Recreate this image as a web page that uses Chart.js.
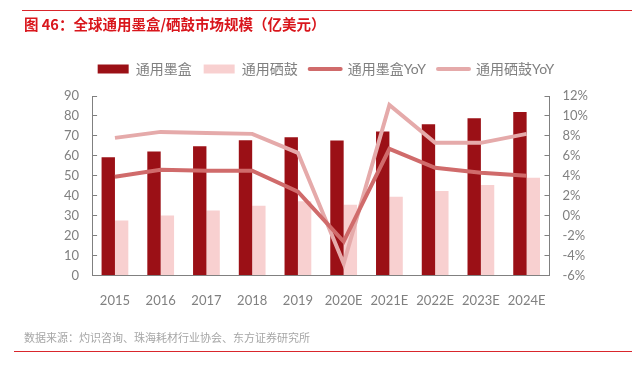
<!DOCTYPE html>
<html>
<head>
<meta charset="utf-8">
<script src="https://cdn.jsdelivr.net/npm/chart.js@4.4.1/dist/chart.umd.min.js"></script>
<style>
  body { margin: 0; background: #fff; }
  #wrap { position: relative; width: 632px; height: 370px; font-family: Lato, 'Noto Sans CJK SC', sans-serif; }
  #topline { position: absolute; left: 22px; right: 0; top: 10px; height: 1px; background: #d9262c; }
  #title { position: absolute; left: 24px; top: 13px; font-size: 14.5px; font-weight: bold; color: #d9161c; font-family: 'Noto Sans CJK SC', sans-serif; }
  #source { position: absolute; left: 24px; top: 329px; font-size: 11px; color: #a6a6a6; font-family: 'Noto Sans CJK SC', sans-serif; }
  #bottomline { position: absolute; left: 14px; right: 0; top: 351px; height: 1px; background: #d9262c; }
  canvas { position: absolute; left: 0; top: 0; }
</style>
</head>
<body>
<div id="wrap">
  <canvas id="chart" width="632" height="370"></canvas>
  <div id="topline"></div>
  <div id="title">图 46：全球通用墨盒/硒鼓市场规模（亿美元）</div>
  <div id="source">数据来源：灼识咨询、珠海耗材行业协会、东方证券研究所</div>
  <div id="bottomline"></div>
</div>
<script>
// データ
const years = ['2015', '2016', '2017', '2018', '2019', '2020E', '2021E', '2022E', '2023E', '2024E'];
const inkCart = [59.3, 62.2, 64.8, 67.8, 69.3, 67.7, 72.2, 75.8, 78.8, 82.0];
const toner = [27.5, 30.0, 32.5, 35.0, 37.2, 35.5, 39.5, 42.3, 45.3, 49.0];
const inkYoY = [3.9, 4.6, 4.5, 4.5, 2.4, -2.6, 6.7, 4.8, 4.3, 4.0];
const tonerYoY = [7.8, 8.4, 8.3, 8.2, 6.3, -4.8, 11.1, 7.3, 7.3, 8.2];
const leftTicks = [0, 90, 10];
const rightTicks = [-6, 12, 2];

const gray = '#808080';
const font = { family: "Lato, 'Noto Sans CJK SC', sans-serif", size: 13 };
const legendFont = { family: "Lato, 'Noto Sans CJK SC', sans-serif", size: 14 };

// 凡例の下に余白を足す
const legendGap = {
  id: 'legendGap',
  beforeInit(chart) {
    const fit = chart.legend.fit;
    chart.legend.fit = function () {
      fit.call(this);
      this.height += 10;
    };
  }
};

const ctx = document.getElementById('chart').getContext('2d');

const chart = new Chart(ctx, {
  type: 'bar',
  data: {
    labels: years,
    datasets: [
      { label: '通用墨盒', data: inkCart, backgroundColor: '#9b1016', yAxisID: 'y', order: 1 },
      { label: '通用硒鼓', data: toner, backgroundColor: '#f8d0d0', yAxisID: 'y', order: 1 },
      { type: 'line', label: '通用墨盒YoY', data: inkYoY, borderColor: '#d06b6b', borderWidth: 4,
        pointRadius: 0, tension: 0, yAxisID: 'y1', order: 0 },
      { type: 'line', label: '通用硒鼓YoY', data: tonerYoY, borderColor: '#e5aaaa', borderWidth: 4,
        pointRadius: 0, tension: 0, yAxisID: 'y1', order: 0 }
    ]
  },
  options: {
    responsive: false,
    animation: false,
    layout: { padding: { top: 50, left: 46, right: 26, bottom: 51 } },
    datasets: {
      bar: { categoryPercentage: 0.585, barPercentage: 1 }
    },
    scales: {
      x: {
        grid: { display: false },
        border: { color: gray, width: 1 },
        ticks: { color: gray, font: font, padding: 10, autoSkip: false, maxRotation: 0 }
      },
      y: {
        position: 'left',
        min: leftTicks[0], max: leftTicks[1],
        ticks: { stepSize: leftTicks[2], color: gray, font: font, padding: 18, autoSkip: false },
        grid: { drawOnChartArea: false, drawTicks: true, tickLength: -5, color: gray },
        border: { color: gray, width: 1 }
      },
      y1: {
        position: 'right',
        min: rightTicks[0], max: rightTicks[1],
        ticks: { stepSize: rightTicks[2], color: gray, font: font, padding: 18, autoSkip: false,
          callback: v => v + '%' },
        grid: { drawOnChartArea: false, drawTicks: true, tickLength: -5, color: gray },
        border: { color: gray, width: 1 }
      }
    },
    plugins: {
      tooltip: { enabled: false },
      legend: {
        position: 'top',
        labels: {
          usePointStyle: true,
          pointStyleWidth: 31,
          boxHeight: 9,
          padding: 12,
          color: gray,
          font: legendFont,
          generateLabels: c => c.data.datasets.map((ds, i) => {
            const isLine = ds.type === 'line';
            return {
              text: ds.label,
              datasetIndex: i,
              pointStyle: isLine ? 'line' : 'rect',
              fillStyle: isLine ? ds.borderColor : ds.backgroundColor,
              strokeStyle: isLine ? ds.borderColor : ds.backgroundColor,
              lineWidth: isLine ? 4 : 0,
              lineCap: 'round',
              fontColor: gray,
              hidden: false
            };
          })
        }
      }
    }
  },
  plugins: [legendGap]
});
</script>
</body>
</html>
